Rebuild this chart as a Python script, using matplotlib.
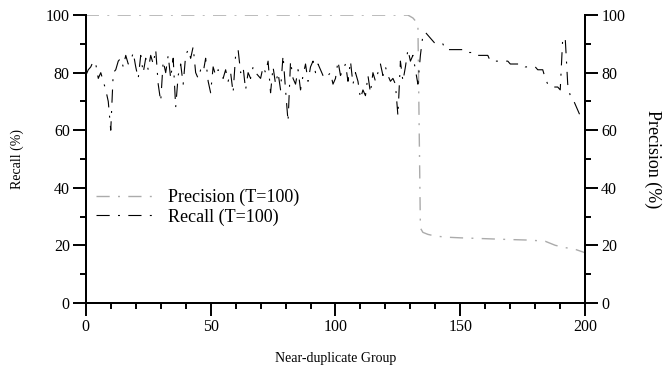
import matplotlib
matplotlib.use("Agg")
import matplotlib.pyplot as plt
from matplotlib.ticker import MultipleLocator

# Recall (%) for each near-duplicate group
recall = [
    79, 81, 82, 84, 83, 78, 80, 77, 74, 70,
    60, 80, 81, 84, 85, 82, 86, 83, 84, 87,
    82, 78, 86, 80, 85, 81, 86, 83, 88, 76,
    70, 84, 80, 86, 78, 85, 68, 79, 83, 76,
    86, 88, 85, 89, 80, 78, 81, 80, 85, 77,
    73, 82, 79, 81, 80, 78, 81, 77, 80, 73,
    86, 88, 80, 82, 74, 80, 78, 82, 80, 79,
    78, 82, 80, 84, 73, 82, 76, 80, 74, 86,
    74, 63, 84, 78, 76, 81, 74, 79, 83, 77,
    82, 84, 80, 83, 81, 79, 80, 79, 80, 76,
    78, 84, 79, 81, 83, 77, 84, 76, 80, 77,
    71, 74, 72, 79, 73, 80, 77, 80, 83, 79,
    82, 79, 77, 78, 76, 65, 84, 77, 82, 88,
    84, 86, 81, 76, 86, 93, 94, 93, 92, 91,
    90, 90, 90, 90, 88, 88, 88, 88, 88, 88,
    88, 88, 88, 87, 87, 87, 86, 86, 86, 86,
    86, 86, 84, 84, 84, 84, 84, 84, 84, 84,
    83, 83, 83, 83, 83, 83, 82, 82, 82, 82,
    82, 81, 81, 81, 78, 76, 76, 75, 75, 75,
    74, 92, 92, 76, 72, 71, 69, 67, 65, 64,
    64,
]
groups = list(range(len(recall)))

# Precision (%) at the groups where its curve changes
prec_groups = [0, 129, 131, 133, 134, 135, 137, 140, 145, 150, 160, 170, 178, 184, 188, 192, 196, 200]
precision = [100, 100, 99, 97, 26, 24.5, 23.8, 23.2, 22.8, 22.6, 22.3, 22.0, 21.8, 21.4, 20.0, 19.2, 18.6, 17.4]

plt.rcParams["font.family"] = ["Liberation Serif", "DejaVu Serif"]
plt.rcParams["lines.scale_dashes"] = False

dash_dot = (0, (9.5, 6, 1.4, 6))

fig = plt.figure(figsize=(6.65, 3.68), dpi=100)
ax = fig.add_axes([0.129, 0.177, 0.751, 0.782])

ax.plot(prec_groups, precision, color="#ababab", lw=1.0,
        linestyle=dash_dot, label="Precision (T=100)")
ax.plot(groups, recall, color="black", lw=0.8,
        linestyle=dash_dot, label="Recall (T=100)")

ax.set_xlim(0, 200)
ax.set_ylim(0, 100)
ax.xaxis.set_major_locator(MultipleLocator(50))
ax.xaxis.set_minor_locator(MultipleLocator(10))
ax.yaxis.set_major_locator(MultipleLocator(20))
ax.yaxis.set_minor_locator(MultipleLocator(10))
ax.spines["top"].set_visible(False)

ax2 = ax.twinx()
ax2.set_ylim(0, 100)
ax2.yaxis.set_major_locator(MultipleLocator(20))
ax2.yaxis.set_minor_locator(MultipleLocator(10))
ax2.spines["top"].set_visible(False)

for a in (ax, ax2):
    for s in a.spines.values():
        s.set_linewidth(1.4)
    a.tick_params(which="major", direction="out", length=9.5, width=1.4, labelsize=11.5, pad=2)
    a.tick_params(which="minor", direction="out", length=4.3, width=1.4)

ax.set_xlabel("Near-duplicate Group", fontsize=10, labelpad=12)
ax.set_ylabel("Recall (%)", fontsize=10, labelpad=16)
ax2.set_ylabel("Precision (%)", fontsize=13, rotation=270, labelpad=26)

ax.legend(loc="upper left", bbox_to_anchor=(-0.012, 0.452), frameon=False,
          fontsize=13, handlelength=3.2, handletextpad=0.8, labelspacing=0.12)

fig.savefig("out.png", dpi=100)
